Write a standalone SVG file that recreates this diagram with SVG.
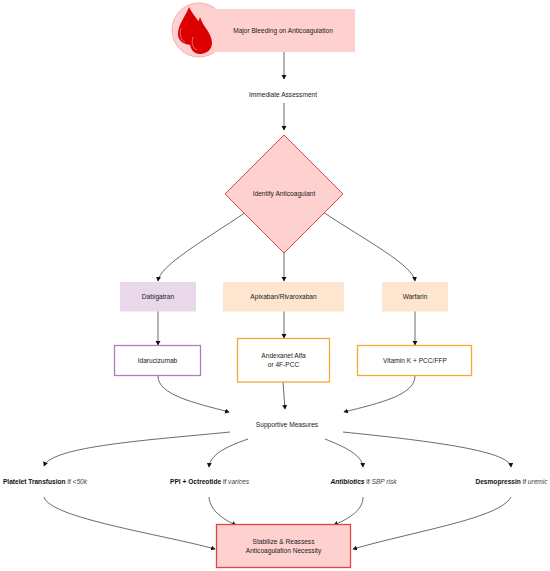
<svg xmlns="http://www.w3.org/2000/svg" width="550" height="571" viewBox="0 0 550 571">
<style>
text{font-family:"Liberation Sans",Arial,sans-serif;font-size:6.6px;fill:#222;text-anchor:middle}
.c{fill:none;stroke:#444;stroke-width:.8;marker-end:url(#a)}
.b{font-weight:bold;fill:#111}
.i{font-style:italic;fill:#444}
</style>
<defs><marker id="a" markerUnits="userSpaceOnUse" markerWidth="6" markerHeight="6" refX="4" refY="2.500" orient="auto"><path d="M0 0L4.500 2.500L0 5Z" fill="#111"/></marker></defs>
<rect width="550" height="571" fill="#fff"/>
<g id="connectors">
<path class="c" d="M284 52V79"/>
<path class="c" d="M284 103V130"/>
<path class="c" d="M246 212C205 240 160 265 158 281"/>
<path class="c" d="M284 253V281"/>
<path class="c" d="M323 212C365 240 413 265 415 281"/>
<path class="c" d="M158 311V345"/>
<path class="c" d="M284 311V338"/>
<path class="c" d="M415 311V345"/>
<path class="c" d="M158 376C158 395 195 403 229 412"/>
<path class="c" d="M283 382L285 409"/>
<path class="c" d="M415 376C415 395 380 403 344 412"/>
<path class="c" d="M230 432C150 440 52 446 44 466"/>
<path class="c" d="M248 439C225 447 210 455 209 467"/>
<path class="c" d="M325 439C345 447 362 455 363 467"/>
<path class="c" d="M343 432C420 440 510 450 511 467"/>
<path class="c" d="M44 497C50 518 160 534 215 549"/>
<path class="c" d="M209 497C210 510 222 519 236 525"/>
<path class="c" d="M363 497C363 510 350 518 334 525"/>
<path class="c" d="M511 497C500 518 420 530 353 549"/>
</g>
<g id="n1"><circle cx="199" cy="30" r="27" fill="#ffd0d0" stroke="#f0a0a0" stroke-width=".8"/><rect x="213" y="9" width="142" height="43" fill="#ffd0d0"/>
<path d="M189 7C193 16 205 26 205 36C205 42 199 45 192 45C184 45 178 41 178 34C178 24 186 16 189 7Z" fill="#dc0000"/>
<path d="M200 17C203 27 212 33 212 43C212 50 206 54 200 54C193 54 190 48 190 43C190 33 197 27 200 17Z" fill="#dc0000"/>
<path d="M181 28C179 34 181 41 185 42M193 37C191 43 193 49 197 50" fill="none" stroke="#f6a8a8" stroke-width=".6"/>
<text x="283" y="33">Major Bleeding on Anticoagulation</text></g>
<g id="n2"><text x="283" y="97">Immediate Assessment</text></g>
<g id="n3"><path d="M284 135L343 194L284 253L225 194Z" fill="#ffd0d0" stroke="#e04545"/><text x="284" y="196">Identify Anticoagulant</text></g>
<g id="n4"><rect x="120" y="282" width="76" height="29.500" fill="#e8d8ea"/><text x="158" y="298.500">Dabigatran</text></g>
<g id="n5"><rect x="223" y="282" width="121" height="29.500" fill="#fde5cf"/><text x="283.500" y="298.500">Apixaban/Rivaroxaban</text></g>
<g id="n6"><rect x="382" y="282" width="66" height="29.500" fill="#fde5cf"/><text x="415" y="298.500">Warfarin</text></g>
<g id="n7"><rect x="114.500" y="345.500" width="86" height="30" fill="#fff" stroke="#b07cc0" stroke-width="1.300"/><text x="157.500" y="362.500">Idarucizumab</text></g>
<g id="n8"><rect x="237.500" y="338.500" width="92" height="43.500" fill="#fff" stroke="#f0ac35" stroke-width="1.300"/><text x="283.500" y="358">Andexanet Alfa</text><text x="283.500" y="367">or 4F-PCC</text></g>
<g id="n9"><rect x="357.500" y="345.500" width="114" height="30" fill="#fff" stroke="#f0ac35" stroke-width="1.300"/><text x="415" y="362.500">Vitamin K + PCC/FFP</text></g>
<g id="n10"><text x="287" y="427">Supportive Measures</text></g>
<g id="n11"><text x="45" y="484"><tspan class="b">Platelet Transfusion</tspan> if <tspan class="i">&lt;50k</tspan></text></g>
<g id="n12"><text x="209.500" y="484"><tspan class="b">PPI + Octreotide</tspan> if <tspan class="i">varices</tspan></text></g>
<g id="n13"><text x="363.500" y="484"><tspan class="b" font-style="italic">Antibiotics</tspan> if <tspan class="i">SBP risk</tspan></text></g>
<g id="n14"><text x="511.500" y="484"><tspan class="b">Desmopressin</tspan> if <tspan class="i">uremic</tspan></text></g>
<g id="n15"><rect x="216.500" y="524.500" width="134" height="43" fill="#ffd0d0" stroke="#e04545" stroke-width="1.300"/><text x="283.500" y="544">Stabilize &amp; Reassess</text><text x="283.500" y="553">Anticoagulation Necessity</text></g>
</svg>
